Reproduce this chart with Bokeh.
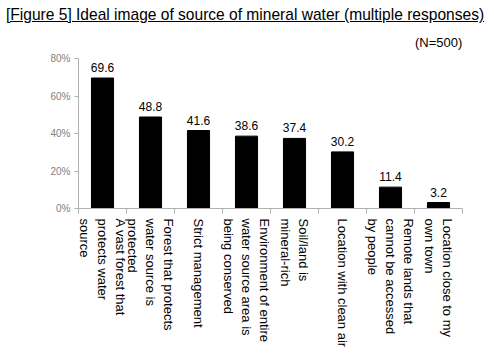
import math
from bokeh.plotting import figure
from bokeh.models import (ColumnDataSource, FixedTicker, LabelSet, Range1d, Div)
from bokeh.core.properties import value
from bokeh.layouts import column
from bokeh.embed import file_html
from bokeh.resources import INLINE

categories = [
    "A vast forest that\nprotects water\nsource",
    "Forest that protects\nwater source is\nprotected",
    "Strict management",
    "Environment of entire\nwater source area is\nbeing conserved",
    "Soil/land is\nmineral-rich",
    "Location with clean air",
    "Remote lands that\ncannot be accessed\nby people",
    "Location close to my\nown town",
]
values = [69.6, 48.8, 41.6, 38.6, 37.4, 30.2, 11.4, 3.2]
y_ticks = [0, 20, 40, 60, 80]
title_text = "[Figure 5] Ideal image of source of mineral water (multiple responses)"
note_text = "(N=500)"

FONT = "Liberation Sans"

xs = [i + 0.5 for i in range(len(values))]
src = ColumnDataSource(dict(x=xs, top=values, lab=[f"{v:.1f}" for v in values]))

header = Div(
    text=(f"<div style='position:relative;width:494px;height:50px;font-family:\"{FONT}\";color:black;'>"
          f"<span style='position:absolute;left:6px;top:5px;font-size:17px;line-height:normal;"
          f"white-space:nowrap;text-decoration:underline;display:inline-block;"
          f"transform:scaleX(0.915);transform-origin:0 0;'>{title_text}</span>"
          f"<span style='position:absolute;left:415px;top:35px;font-size:13px;line-height:normal;"
          f"white-space:nowrap;'>{note_text}</span></div>"),
    width=494, height=50, margin=(0, 0, 0, 0),
)

p = figure(width=494, height=305, output_backend="svg", toolbar_location=None,
           x_range=Range1d(0, len(values)), y_range=Range1d(0, 80),
           min_border_left=78, min_border_right=32, min_border_top=8,
           min_border_bottom=147, outline_line_color=None, margin=(0, 0, 0, 0))
p.xgrid.visible = False
p.ygrid.visible = False

p.vbar(x="x", top="top", width=0.46, source=src, fill_color="black", line_color="black")

p.add_layout(LabelSet(x="x", y="top", text="lab", source=src, text_align="center",
                      text_baseline="bottom", y_offset=6, text_font=value(FONT),
                      text_font_size="12px", text_color="black"))

# x axis
xa = p.xaxis[0]
xa.ticker = FixedTicker(ticks=xs, minor_ticks=list(range(len(values) + 1)))
xa.major_label_overrides = {x: c for x, c in zip(xs, categories)}
xa.major_label_orientation = -math.pi / 2
xa.major_tick_out = 0
xa.major_tick_in = 0
xa.minor_tick_out = 5
xa.minor_tick_in = 0
xa.minor_tick_line_color = "#b0b0b0"
xa.axis_line_color = "#b0b0b0"
xa.major_label_text_font = FONT
xa.major_label_text_font_size = "13px"
xa.major_label_text_color = "black"
xa.major_label_standoff = 5

# y axis
ya = p.yaxis[0]
ya.ticker = FixedTicker(ticks=y_ticks, minor_ticks=[])
ya.major_label_overrides = {t: f"{t}%" for t in y_ticks}
ya.major_tick_out = 4
ya.major_tick_in = 0
ya.minor_tick_out = 0
ya.major_tick_line_color = "#b0b0b0"
ya.axis_line_color = "#b0b0b0"
ya.major_label_text_font = FONT
ya.major_label_text_font_size = "10px"
ya.major_label_text_color = "#7f7f7f"
ya.major_label_standoff = 4

layout = column(header, p, spacing=0, margin=(0, 0, 0, 0))
open("out.html", "w").write(file_html(layout, INLINE))
